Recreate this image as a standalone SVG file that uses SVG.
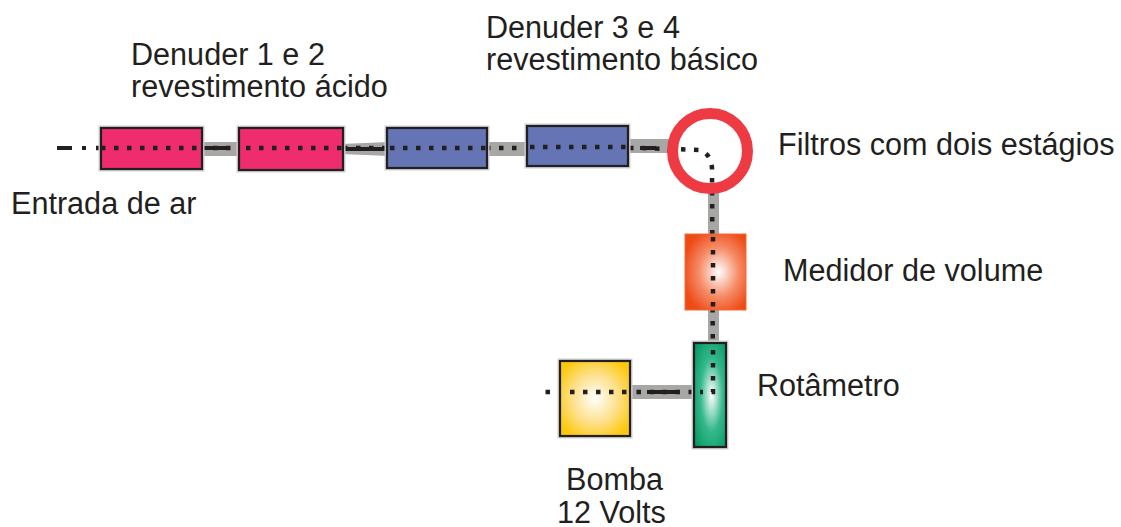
<svg xmlns="http://www.w3.org/2000/svg" width="1121" height="527" viewBox="0 0 1121 527">
<defs>
<style>
.t{font-family:"Liberation Sans",Arial,sans-serif;font-size:30.6px;fill:#231f20}
.box{stroke:#231f20;stroke-width:2.2}
.halo{fill:none;stroke:#d0d0d0;stroke-width:3}
.tube{fill:#a7a7a5}
.dot{fill:none;stroke:#231f20;stroke-width:4.5;stroke-dasharray:4.5 8.5}
.dash{fill:none;stroke:#231f20;stroke-width:4}
</style>
<radialGradient id="gOr" cx="0.55" cy="0.5" r="0.6">
<stop offset="0" stop-color="#ffffff"/><stop offset="0.55" stop-color="#f68a65"/><stop offset="1" stop-color="#ee4a14"/>
</radialGradient>
<radialGradient id="gGr" cx="0.55" cy="0.5" r="0.7">
<stop offset="0" stop-color="#ffffff"/><stop offset="0.5" stop-color="#35b88c"/><stop offset="1" stop-color="#00975f"/>
</radialGradient>
<radialGradient id="gYe" cx="0.5" cy="0.5" r="0.6">
<stop offset="0" stop-color="#ffffff"/><stop offset="0.55" stop-color="#fde089"/><stop offset="1" stop-color="#fdc70a"/>
</radialGradient>
</defs>

<g id="connectors">
<rect class="tube" x="200" y="142" width="42" height="14"/>
<polygon class="tube" points="341,144 389,142 389,156 341,154"/>
<rect class="tube" x="485" y="142" width="44" height="14"/>
<rect class="tube" x="626" y="139" width="46" height="14"/>
<rect class="tube" x="708" y="185" width="11" height="49"/>
<rect class="tube" x="708" y="305" width="11" height="48"/>
<rect class="tube" x="625" y="385" width="70" height="14"/>
<path class="dash" d="M57,148 H72 M82,148 H86" />
<path class="dot" d="M96,148 L640,148 L700,150 Q711,154 712,168 L713,392 L545,392"/>
<path class="dash" d="M640,148 L656,148 M647,392 H678 M203,148 H230 M345,149 H385"/>
</g>

<g id="denuder1">
<rect class="halo" x="100" y="127" width="103" height="43"/>
<rect class="box" x="101" y="128" width="101" height="41" fill="#ee2c6e"/>
<path class="dot" d="M101,148 H202"/>
</g>
<g id="denuder2">
<rect class="halo" x="238" y="127" width="106" height="44"/>
<rect class="box" x="239" y="128" width="104" height="42" fill="#ee2c6e"/>
<path class="dot" d="M246,148 H343"/>
</g>
<g id="denuder3">
<rect class="halo" x="386" y="127" width="102" height="42"/>
<rect class="box" x="387" y="128" width="100" height="40" fill="#6474b4"/>
<path class="dot" d="M390,148 H487"/>
</g>
<g id="denuder4">
<rect class="halo" x="526" y="125" width="103" height="42"/>
<rect class="box" x="527" y="126" width="101" height="40" fill="#6474b4"/>
<path class="dot" d="M530,147 H628"/>
</g>
<g id="filtros">
<circle cx="710" cy="151" r="37.5" fill="none" stroke="#ee3a43" stroke-width="11"/>
</g>
<g id="medidor">
<rect x="685" y="234" width="61" height="76" fill="url(#gOr)" stroke="#f26a3a" stroke-width="1"/>
<path class="dot" d="M713,237 V310"/>
</g>
<g id="rotametro">
<rect class="halo" x="693" y="342" width="34" height="106"/>
<rect class="box" x="694" y="343" width="32" height="104" fill="url(#gGr)"/>
<path class="dot" d="M713,350 V392 H700"/>
</g>
<g id="bomba">
<rect class="halo" x="559" y="360" width="72" height="77"/>
<rect class="box" x="560" y="361" width="70" height="75" fill="url(#gYe)"/>
<path class="dot" d="M570,392 H630"/>
</g>

<g id="labels">
<text class="t" x="131" y="65">Denuder 1 e 2</text>
<text class="t" x="131" y="97">revestimento ácido</text>
<text class="t" x="486" y="38">Denuder 3 e 4</text>
<text class="t" x="486" y="70">revestimento básico</text>
<text class="t" x="778" y="155">Filtros com dois estágios</text>
<text class="t" x="11" y="214">Entrada de ar</text>
<text class="t" x="783" y="281">Medidor de volume</text>
<text class="t" x="757" y="396">Rotâmetro</text>
<text class="t" x="566" y="490">Bomba</text>
<text class="t" x="557" y="523">12 Volts</text>
</g>
</svg>
